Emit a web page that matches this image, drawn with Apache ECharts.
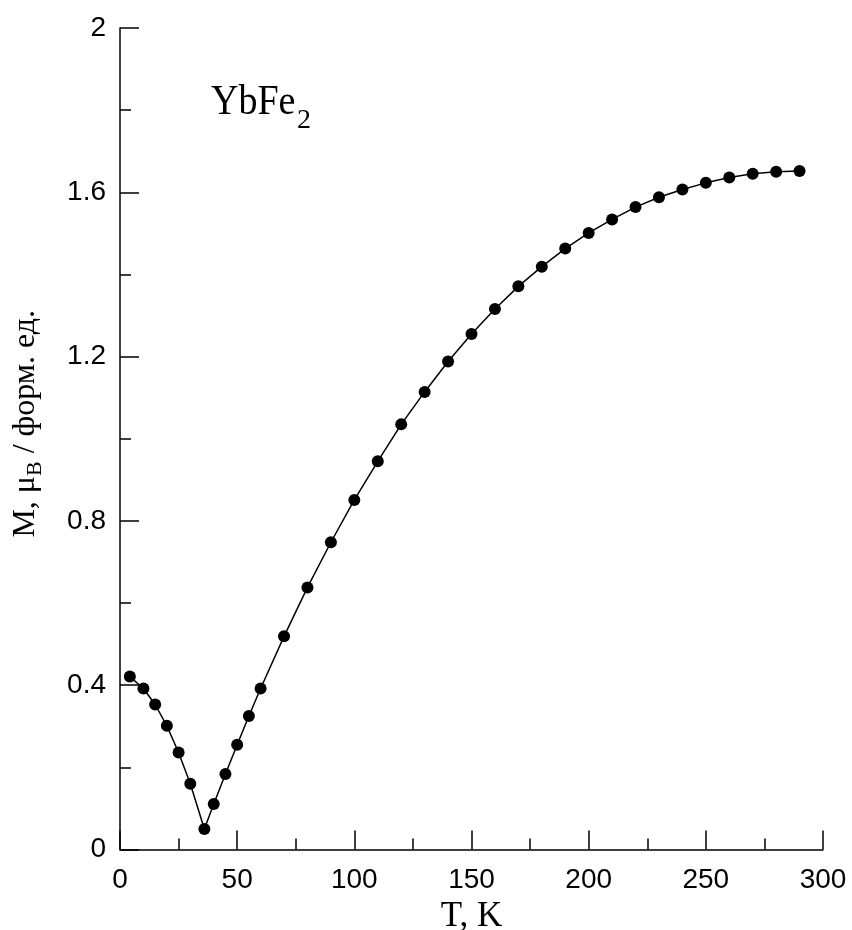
<!DOCTYPE html>
<html>
<head>
<meta charset="utf-8">
<script src="https://cdn.jsdelivr.net/npm/echarts@6/dist/echarts.min.js"></script>
<style>
html,body{margin:0;padding:0;background:#fff;}
#c{width:852px;height:930px;}
</style>
</head>
<body>
<div id="c"></div>
<script>
const temperature = [4.2,10,15,20,25,30,36,40,45,50,55,60,70,80,90,100,110,120,130,140,150,160,170,180,190,200,210,220,230,240,250,260,270,280,290];
const magnetization = [0.421,0.392,0.353,0.301,0.236,0.160,0.050,0.111,0.184,0.255,0.325,0.392,0.519,0.638,0.748,0.851,0.945,1.035,1.114,1.188,1.255,1.316,1.371,1.419,1.463,1.501,1.534,1.564,1.588,1.607,1.623,1.636,1.645,1.650,1.652];
const xTicks = {min:0, max:300, interval:50};
const yTicks = {min:0, max:2, interval:0.4};

const serif = '"Liberation Serif","Times New Roman",serif';
const sans = '"Liberation Sans",Arial,sans-serif';

const chart = echarts.init(document.getElementById('c'), null, {renderer:'canvas'});
const axisCommon = {
  axisLine:{show:true, onZero:false, lineStyle:{color:'#000', width:1.5}},
  axisTick:{show:true, inside:true, length:19, lineStyle:{color:'#000', width:1.5}},
  minorTick:{show:true, splitNumber:2, length:11, lineStyle:{color:'#000', width:1.5}},
  splitLine:{show:false},
  axisLabel:{color:'#000', fontFamily:sans, fontSize:28}
};
chart.setOption({
  animation:false,
  backgroundColor:'#fff',
  grid:{left:120, right:29, top:28, bottom:80.5, containLabel:false, outerBoundsMode:'none'},
  graphic:[
    {type:'text', left:211, top:82, scaleY:1.12, style:{text:'YbFe', font:'38px ' + serif, fill:'#000'}},
    {type:'text', left:297, top:107, style:{text:'2', font:'28px ' + serif, fill:'#000'}}
  ],
  xAxis:Object.assign({}, axisCommon, {
    type:'value', min:xTicks.min, max:xTicks.max, interval:xTicks.interval,
    name:'T, K', nameLocation:'middle', nameGap:49,
    nameTextStyle:{color:'#000', fontFamily:serif, fontSize:35},
    axisLabel:Object.assign({}, axisCommon.axisLabel, {margin:17})
  }),
  yAxis:Object.assign({}, axisCommon, {
    type:'value', min:yTicks.min, max:yTicks.max, interval:yTicks.interval,
    name:'{n|M, μ}{s|B}{n| / форм. ед.}', nameLocation:'middle', nameGap:74,
    nameTextStyle:{color:'#000', fontFamily:serif, fontSize:32, padding:[0,0,0,30],
      rich:{n:{fontFamily:serif, fontSize:32, lineHeight:40, color:'#000'},
            s:{fontFamily:serif, fontSize:22, lineHeight:22, verticalAlign:'bottom', color:'#000'}}},
    axisLabel:Object.assign({}, axisCommon.axisLabel, {margin:14})
  }),
  series:[{
    type:'line',
    data:temperature.map((t,i)=>[t, magnetization[i]]),
    symbol:'circle', symbolSize:12,
    itemStyle:{color:'#000'},
    lineStyle:{color:'#000', width:1.5},
    smooth:false
  }]
});
</script>
</body>
</html>
